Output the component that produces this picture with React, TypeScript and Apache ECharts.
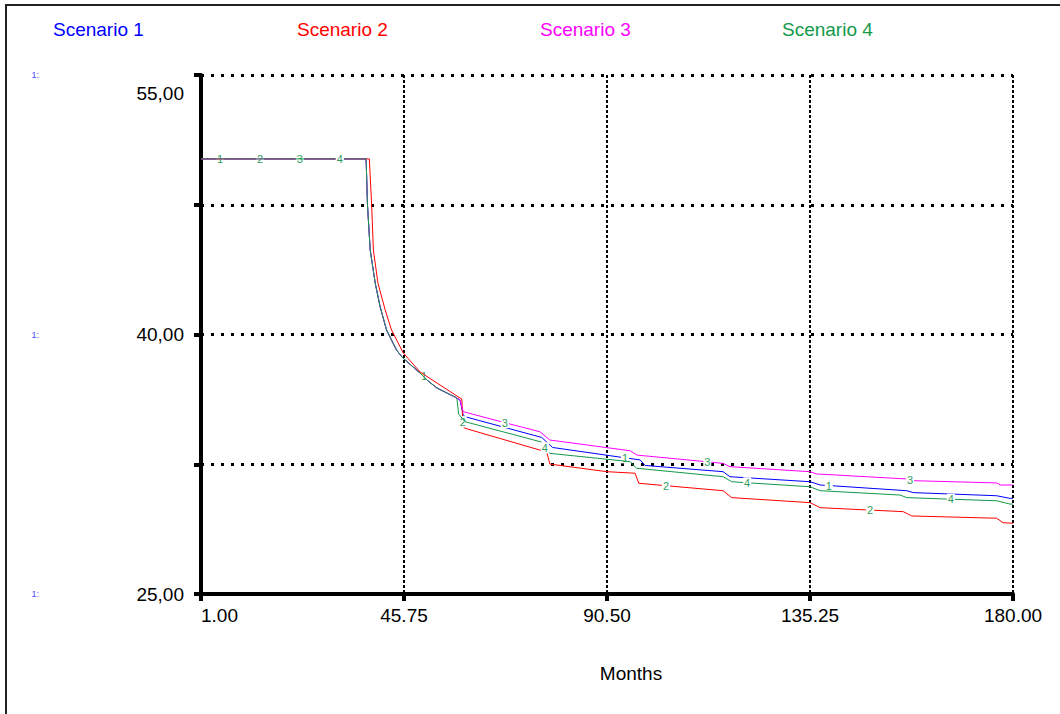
import React, { useEffect, useRef } from 'react';
import * as echarts from 'echarts';

const FONT = '"Liberation Sans", Arial, sans-serif';

const seriesNames = ['Scenario 1', 'Scenario 2', 'Scenario 3', 'Scenario 4'];
const seriesColors = ['#0000ff', '#ff0000', '#ff00ff', '#12994a'];
const labelColor = '#2f9e5c';

const xTickLabels = ['1.00', '45.75', '90.50', '135.25', '180.00'];
const yTickLabels = ['25,00', '', '40,00', '', '55,00'];
const sideLabel = '1:';
const xMin = 1;
const xMax = 180;
const xStep = 44.75;
const yMin = 25;
const yMax = 55;
const yStep = 7.5;

// months, value
const sharedStart = [
  [1, 50.15], [37.4, 50.15], [37.7, 47.49], [38.3, 44.88], [39.4, 42.98], [40.5, 41.59],
  [41.9, 40.26], [44.1, 39.1], [45.5, 38.64], [49.3, 37.77], [50.8, 37.37], [53.0, 36.91], [57.4, 36.33],
];

const scenario1Tail = [
  [58.1, 36.21], [58.8, 35.35], [59.2, 35.25], [76.1, 34.05], [78.5, 33.47], [97.8, 32.75],
  [98.9, 32.43], [116.1, 32.07], [117.6, 31.78], [135.25, 31.49], [137.5, 31.3], [156.6, 30.97],
  [158.0, 30.86], [176.4, 30.68], [179.3, 30.53], [180, 30.53],
];

const scenario2 = [
  [1, 50.15], [38.1, 50.15], [38.6, 47.6], [39.0, 44.88], [40.0, 42.98], [41.6, 41.42], [43.0, 40.26],
  [45.6, 38.93], [49.3, 37.83], [58.1, 36.33], [58.5, 36.27], [58.8, 34.67], [59.2, 34.58],
  [75.7, 33.32], [77.2, 33.23], [77.9, 32.51], [90.5, 32.07], [96.7, 31.98], [97.5, 31.4],
  [116.1, 30.97], [118.0, 30.57], [135.25, 30.28], [137.5, 29.99], [155.8, 29.76], [157.7, 29.51],
  [176.4, 29.38], [177.8, 29.12], [180, 29.09],
];

const scenario3Tail = [
  [58.1, 36.21], [58.8, 35.54], [75.7, 34.38], [77.9, 33.9], [95.6, 33.28], [97.1, 33.03],
  [116.1, 32.55], [117.6, 32.36], [135.25, 32.07], [136.7, 31.94], [156.6, 31.65], [158.0, 31.55],
  [176.4, 31.42], [177.3, 31.3], [180, 31.3],
];

const scenario4Tail = [
  [57.8, 35.4], [59.2, 34.96], [76.1, 33.78], [77.9, 33.13], [95.6, 32.65], [97.0, 32.27],
  [116.1, 31.78], [118.0, 31.49], [135.25, 31.2], [137.5, 30.97], [155.1, 30.72], [156.6, 30.57],
  [176.4, 30.39], [179.3, 30.2], [180, 30.2],
];

// number markers along the lines (months, value)
const labels1 = [[5.2, 50.15], [50.2, 37.6], [94.5, 32.87], [139.4, 31.27]];
const labels2 = [[14.0, 50.15], [58.7, 34.96], [103.5, 31.26], [148.5, 29.85]];
const labels3 = [[22.8, 50.15], [68.0, 34.9], [112.6, 32.64], [157.3, 31.6]];
const labels4 = [[31.6, 50.15], [76.8, 33.45], [121.4, 31.43], [166.3, 30.48]];

const legendLefts = [48, 292, 535, 777];

function buildData(points: number[][], marks: number[][], text: string) {
  const items: any[] = points.map((p) => ({ value: [p[0] - xMin, p[1] - yMin] }));
  marks.forEach((m) => {
    items.push({ value: [m[0] - xMin, m[1] - yMin], label: { show: true, formatter: text } });
  });
  items.sort((a, b) => a.value[0] - b.value[0]);
  return items;
}

const seriesPoints = [
  sharedStart.concat(scenario1Tail),
  scenario2,
  sharedStart.concat(scenario3Tail),
  sharedStart.concat(scenario4Tail),
];
const seriesMarks = [labels1, labels2, labels3, labels4];

export default function App() {
  const ref = useRef<HTMLDivElement>(null);

  useEffect(() => {
    if (!ref.current) return;
    const chart = echarts.init(ref.current, null, { renderer: 'svg' });
    const drawOrder = [2, 0, 3, 1];
    const series = drawOrder.map((i) => ({
      type: 'line',
      name: seriesNames[i],
      data: buildData(seriesPoints[i], seriesMarks[i], String(i + 1)),
      symbol: 'circle',
      symbolSize: 0,
      showSymbol: true,
      silent: true,
      lineStyle: { width: 1, color: seriesColors[i] },
      itemStyle: { color: seriesColors[i] },
      emphasis: { disabled: true },
      label: {
        show: false,
        position: 'inside',
        color: labelColor,
        fontSize: 11,
        fontFamily: FONT,
        backgroundColor: '#ffffff',
        padding: [0, 1],
      },
      z: 2 + i,
    }));

    chart.setOption({
      animation: false,
      backgroundColor: '#ffffff',
      textStyle: { fontFamily: FONT },
      graphic: [
        {
          type: 'rect',
          silent: true,
          z: -10,
          shape: { x: 6, y: 5, width: 1100, height: 800 },
          style: { fill: 'none', stroke: '#222222', lineWidth: 2 },
        },
      ],
      legend: seriesNames.map((name, i) => ({
        data: [name],
        left: legendLefts[i],
        top: 20,
        padding: 0,
        icon: 'none',
        itemWidth: 0,
        itemHeight: 0,
        selectedMode: false,
        textStyle: { color: seriesColors[i], fontSize: 19, fontFamily: FONT },
      })),
      grid: { left: 201, right: 47, top: 75, bottom: 120, containLabel: false },
      xAxis: {
        type: 'value',
        min: 0,
        max: xMax - xMin,
        interval: xStep,
        name: 'Months',
        nameLocation: 'middle',
        nameGap: 70,
        nameTextStyle: { color: '#000', fontSize: 19, fontFamily: FONT, padding: [0, 0, 0, 48] },
        axisLine: { show: true, onZero: false, lineStyle: { color: '#000', width: 4 } },
        axisTick: { show: true, length: 7, lineStyle: { color: '#000', width: 4 } },
        splitLine: { show: true, lineStyle: { color: '#000', width: 2, type: [3, 2] } },
        axisLabel: {
          color: '#000',
          fontSize: 19,
          fontFamily: FONT,
          margin: 12,
          alignMinLabel: 'left',
          formatter: (v: number) => xTickLabels[Math.round(v / xStep)] ?? '',
        },
      },
      yAxis: [
        {
          type: 'value',
          min: 0,
          max: yMax - yMin,
          interval: yStep,
          axisLine: { show: true, onZero: false, lineStyle: { color: '#000', width: 4 } },
          axisTick: { show: true, length: 7, lineStyle: { color: '#000', width: 4 } },
          splitLine: { show: true, lineStyle: { color: '#000', width: 3, type: [3, 7] } },
          axisLabel: {
            color: '#000',
            fontSize: 19,
            fontFamily: FONT,
            margin: 17,
            formatter: (v: number) => {
              const idx = Math.round(v / yStep);
              const t = yTickLabels[idx] ?? '';
              if (!t) return '';
              return idx === yTickLabels.length - 1 ? `{top|${t}}` : t;
            },
            rich: {
              top: { color: '#000', fontSize: 19, fontFamily: FONT, padding: [36, 0, 0, 0] },
            },
          },
        },
        {
          type: 'value',
          min: 0,
          max: yMax - yMin,
          interval: 15,
          position: 'left',
          offset: 162,
          axisLine: { show: false },
          axisTick: { show: false },
          splitLine: { show: false },
          axisLabel: {
            color: '#4a4aff',
            fontSize: 9,
            fontFamily: FONT,
            margin: 0,
            formatter: () => sideLabel,
          },
        },
      ],
      series,
    });
    return () => chart.dispose();
  }, []);

  return (
    <div
      ref={ref}
      style={{ position: 'fixed', left: 0, top: 0, width: 1060, height: 714, background: '#fff' }}
    />
  );
}
